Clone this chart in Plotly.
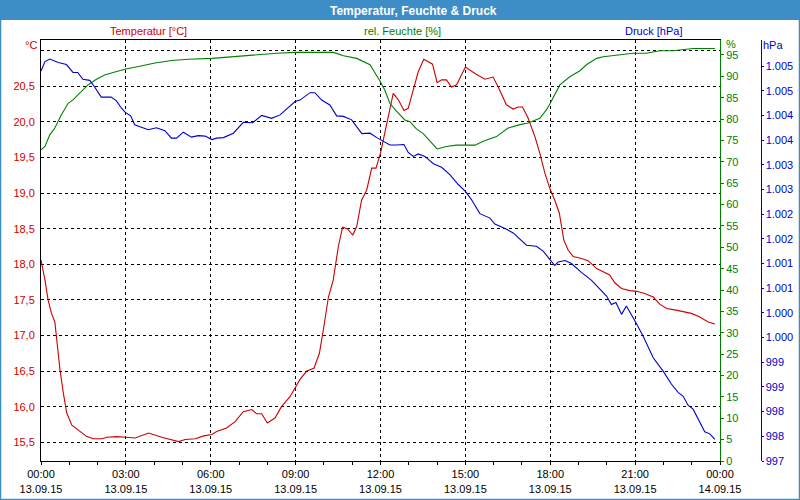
import pandas as pd
import plotly.graph_objects as go

# ---- data (hours after 13.09.15 00:00) ----
T_hours = [0.0, 0.14, 0.25, 0.37, 0.49, 0.55, 0.67, 0.79, 0.91, 1.09,
           1.33, 1.62, 1.86, 2.16, 2.33, 2.68, 3.0, 3.33, 3.8, 4.27,
           4.86, 5.1, 5.45, 5.75, 6.04, 6.21, 6.56, 6.86, 7.15, 7.45,
           7.62, 7.8, 8.0, 8.27, 8.5, 8.8, 9.15, 9.39, 9.65, 9.84,
           9.98, 10.16, 10.33, 10.51, 10.66, 10.83, 11.02, 11.16, 11.33, 11.51,
           11.69, 11.84, 12.0, 12.21, 12.45, 12.63, 12.83, 12.98, 13.16, 13.33,
           13.53, 13.84, 14.0, 14.16, 14.33, 14.51, 14.69, 15.0, 15.34, 15.69,
           15.98, 16.16, 16.45, 16.69, 16.87, 17.02, 17.22, 17.46, 17.63, 17.81,
           17.99, 18.16, 18.32, 18.48, 18.63, 18.81, 19.1, 19.34, 19.64, 19.87,
           20.1, 20.28, 20.52, 20.81, 21.05, 21.34, 21.64, 21.87, 22.11, 22.4,
           22.7, 22.99, 23.29, 23.58, 23.82]
temperature = [18.06, 17.78, 17.5, 17.31, 17.19, 16.94, 16.52, 16.19, 15.91, 15.74,
               15.67, 15.58, 15.55, 15.55, 15.57, 15.58, 15.57, 15.56, 15.63, 15.57,
               15.51, 15.54, 15.55, 15.59, 15.61, 15.65, 15.70, 15.79, 15.93, 15.96,
               15.90, 15.90, 15.77, 15.84, 16.0, 16.14, 16.38, 16.5, 16.54, 16.75,
               17.08, 17.54, 17.78, 18.25, 18.52, 18.5, 18.41, 18.53, 18.9, 19.04,
               19.35, 19.35, 19.56, 19.95, 20.40, 20.31, 20.16, 20.19, 20.45, 20.70,
               20.88, 20.81, 20.55, 20.59, 20.59, 20.49, 20.52, 20.77, 20.68, 20.60,
               20.63, 20.49, 20.24, 20.18, 20.21, 20.21, 20.05, 19.79, 19.56, 19.28,
               19.06, 18.9, 18.72, 18.34, 18.2, 18.11, 18.08, 18.05, 17.94, 17.90,
               17.85, 17.74, 17.66, 17.63, 17.62, 17.59, 17.54, 17.44, 17.38, 17.36,
               17.34, 17.31, 17.26, 17.19, 17.16]

H_hours = [0.0, 0.14, 0.31, 0.49, 0.72, 0.96, 1.13, 1.37, 1.66, 1.96,
           2.25, 2.61, 3.0, 3.44, 4.03, 4.62, 5.2, 6.04, 7.15, 8.33,
           8.98, 10.34, 10.69, 11.16, 11.63, 11.87, 11.98, 12.15, 12.33, 12.57,
           12.86, 13.04, 13.27, 13.51, 13.75, 14.0, 14.33, 14.69, 15.34, 15.63,
           16.1, 16.51, 16.93, 17.22, 17.63, 17.87, 17.99, 18.16, 18.34, 18.69,
           19.05, 19.28, 19.64, 19.87, 20.34, 20.93, 21.4, 21.87, 22.34, 23.05,
           23.82]
humidity = [72.8, 73.6, 76.3, 77.9, 81.0, 83.7, 84.5, 86.1, 88.0, 89.3,
            90.3, 91.0, 91.7, 92.3, 93.1, 93.7, 94.0, 94.2, 94.8, 95.4,
            95.6, 95.6, 94.8, 94.2, 92.7, 90.3, 88.9, 86.8, 83.7, 81.8,
            79.8, 79.4, 77.7, 76.6, 74.8, 73.0, 73.6, 73.9, 73.9, 74.8,
            75.9, 77.9, 78.7, 79.1, 80.2, 82.2, 83.6, 85.6, 88.0, 89.9,
            91.3, 92.7, 94.2, 94.6, 95.0, 95.4, 95.4, 96.0, 96.0, 96.5,
            96.5]

P_hours = [0.0, 0.14, 0.31, 0.61, 0.9, 1.13, 1.3, 1.48, 1.72, 1.89,
           2.13, 2.48, 2.66, 2.84, 2.98, 3.17, 3.31, 3.79, 4.08, 4.38,
           4.61, 4.79, 5.03, 5.32, 5.56, 5.8, 6.04, 6.21, 6.45, 6.8,
           7.15, 7.48, 7.8, 8.15, 8.45, 8.74, 8.98, 9.15, 9.51, 9.68,
           9.92, 10.21, 10.45, 10.69, 10.98, 11.34, 11.63, 11.87, 11.98, 12.33,
           12.57, 12.83, 12.98, 13.16, 13.33, 13.57, 13.87, 14.16, 14.45, 14.75,
           15.0, 15.22, 15.51, 15.87, 16.04, 16.4, 16.69, 16.93, 17.16, 17.51,
           17.75, 17.99, 18.16, 18.28, 18.52, 18.75, 19.1, 19.46, 19.75, 19.99,
           20.16, 20.32, 20.52, 20.69, 21.0, 21.28, 21.64, 21.99, 22.28, 22.52,
           22.7, 22.87, 23.05, 23.29, 23.46, 23.64, 23.82]
pressure = [1004.90, 1005.09, 1005.14, 1005.07, 1005.03, 1004.87, 1004.87, 1004.73, 1004.71, 1004.58,
            1004.37, 1004.37, 1004.30, 1004.15, 1004.06, 1003.99, 1003.81, 1003.71, 1003.75, 1003.69,
            1003.54, 1003.54, 1003.66, 1003.56, 1003.59, 1003.58, 1003.51, 1003.54, 1003.55, 1003.64,
            1003.86, 1003.85, 1004.00, 1003.94, 1004.01, 1004.16, 1004.28, 1004.31, 1004.46, 1004.46,
            1004.31, 1004.21, 1003.99, 1003.98, 1003.91, 1003.63, 1003.64, 1003.55, 1003.51, 1003.40,
            1003.40, 1003.41, 1003.25, 1003.17, 1003.22, 1003.17, 1003.02, 1002.95, 1002.80, 1002.60,
            1002.46, 1002.29, 1002.01, 1001.92, 1001.80, 1001.71, 1001.62, 1001.50, 1001.37, 1001.35,
            1001.25, 1001.08, 1000.96, 1001.03, 1001.06, 1001.00, 1000.82, 1000.66, 1000.49, 1000.34,
            1000.17, 1000.21, 999.97, 1000.14, 999.83, 999.53, 999.09, 998.82, 998.56, 998.39,
            998.31, 998.13, 998.05, 997.78, 997.59, 997.55, 997.44]

T_tickvals = [15.5, 16.0, 16.5, 17.0, 17.5, 18.0, 18.5, 19.0, 19.5, 20.0, 20.5, 21.0]
T_ticktext = ["15,5", "16,0", "16,5", "17,0", "17,5", "18,0", "18,5", "19,0", "19,5", "20,0", "20,5", ""]
P_tickvals = [997, 997.5, 998, 998.5, 999, 999.5, 1000, 1000.5, 1001, 1001.5,
              1002, 1002.5, 1003, 1003.5, 1004, 1004.5, 1005]
P_ticktext = ["997", "998", "998", "999", "999", "1.000", "1.000", "1.001", "1.001", "1.002",
              "1.002", "1.003", "1.003", "1.004", "1.004", "1.005", "1.005"]

start = pd.Timestamp("2015-09-13 00:00")
end = pd.Timestamp("2015-09-14 00:00")


def to_time(hours):
    return [start + pd.Timedelta(hours=h) for h in hours]


RED = "#cc0000"
GREEN = "#008000"
BLUE = "#0000cc"
BAR = "#3d8dc6"
FONT = "Liberation Sans"

fig = go.Figure()
fig.add_trace(go.Scatter(x=to_time(T_hours), y=temperature, mode="lines",
                         line=dict(color=RED, width=1.1), yaxis="y", name="Temperatur [°C]"))
fig.add_trace(go.Scatter(x=to_time(H_hours), y=humidity, mode="lines",
                         line=dict(color=GREEN, width=1.1), yaxis="y2", name="rel. Feuchte [%]"))
fig.add_trace(go.Scatter(x=to_time(P_hours), y=pressure, mode="lines",
                         line=dict(color=BLUE, width=1.1), yaxis="y3", name="Druck [hPa]"))

L, R, TOP, BOT, W, H = 41, 0, 40, 39, 800, 500
PW, PH = W - L - R, H - TOP - BOT


def px(x):
    return (x - L) / PW


def py(y):
    return (H - BOT - y) / PH


fig.update_layout(
    width=W, height=H,
    margin=dict(l=L, r=R, t=TOP, b=BOT, autoexpand=False),
    paper_bgcolor="white", plot_bgcolor="white",
    showlegend=False,
    font=dict(family=FONT, size=11, color="black"),
    xaxis=dict(
        domain=[0, px(720)],
        range=[start, end],
        type="date",
        tick0=start, dtick=3 * 3600 * 1000,
        tickformat="%H:%M<br>%d.%m.%y",
        ticks="outside", ticklen=3, tickcolor="black",
        minor=dict(dtick=3600 * 1000, ticks="outside", ticklen=3, tickcolor="black", showgrid=False),
        showline=True, linecolor="black", linewidth=1, mirror=True,
        showgrid=True, gridcolor="black", gridwidth=1, griddash="3px,3px",
        zeroline=False,
        tickfont=dict(family=FONT, size=11, color="black"),
    ),
    yaxis=dict(
        range=[15.237, 21.15],
        tickvals=T_tickvals, ticktext=T_ticktext,
        tickfont=dict(family=FONT, size=11, color=RED),
        showline=True, linecolor="black", linewidth=1,
        showgrid=True, gridcolor="black", gridwidth=1, griddash="3px,3px",
        zeroline=False, ticks="", ticklabelstandoff=3,
    ),
    yaxis2=dict(
        overlaying="y", side="right", anchor="x",
        range=[0, 98.5], tick0=0, dtick=5,
        tickfont=dict(family=FONT, size=11, color=GREEN),
        showline=True, linecolor=GREEN, linewidth=1,
        ticks="outside", ticklen=3, tickcolor=GREEN,
        showgrid=False, zeroline=False,
    ),
    yaxis3=dict(
        overlaying="y", side="right", anchor="free", position=px(760.5),
        range=[997, 1005.527],
        tickvals=P_tickvals, ticktext=P_ticktext,
        tickfont=dict(family=FONT, size=11, color=BLUE),
        showline=True, linecolor=BLUE, linewidth=1,
        ticks="outside", ticklen=2, tickcolor=BLUE,
        showgrid=False, zeroline=False,
    ),
    shapes=[
        dict(type="rect", xref="paper", yref="paper", x0=px(0), x1=px(800), y0=py(20), y1=py(0),
             fillcolor=BAR, line=dict(width=0), layer="above"),
        dict(type="rect", xref="paper", yref="paper", x0=px(0.5), x1=px(799.5), y0=py(499.5), y1=py(0.5),
             fillcolor="rgba(0,0,0,0)", line=dict(color=BAR, width=1.5), layer="above"),
    ],
    annotations=[
        dict(text="<b>Temperatur, Feuchte & Druck</b>", xref="paper", yref="paper", x=px(413), y=py(10.5),
             xanchor="center", yanchor="middle", showarrow=False,
             font=dict(family=FONT, size=12, color="white")),
        dict(text="Temperatur [°C]", xref="paper", yref="paper", x=px(148), y=py(31),
             xanchor="center", yanchor="middle", showarrow=False, font=dict(color=RED)),
        dict(text="rel. Feuchte [%]", xref="paper", yref="paper", x=px(402), y=py(31),
             xanchor="center", yanchor="middle", showarrow=False, font=dict(color=GREEN)),
        dict(text="Druck [hPa]", xref="paper", yref="paper", x=px(653), y=py(31),
             xanchor="center", yanchor="middle", showarrow=False, font=dict(color=BLUE)),
        dict(text="°C", xref="paper", yref="paper", x=px(30.5), y=py(45),
             xanchor="center", yanchor="middle", showarrow=False, font=dict(color=RED)),
        dict(text="%", xref="paper", yref="paper", x=px(730.5), y=py(44),
             xanchor="center", yanchor="middle", showarrow=False, font=dict(color=GREEN)),
        dict(text="hPa", xref="paper", yref="paper", x=px(773), y=py(45),
             xanchor="center", yanchor="middle", showarrow=False, font=dict(color=BLUE)),
    ],
)

fig.write_html("out.html", config={"displayModeBar": False},
               post_script="document.body.style.margin='0';document.body.style.overflow='hidden';")
